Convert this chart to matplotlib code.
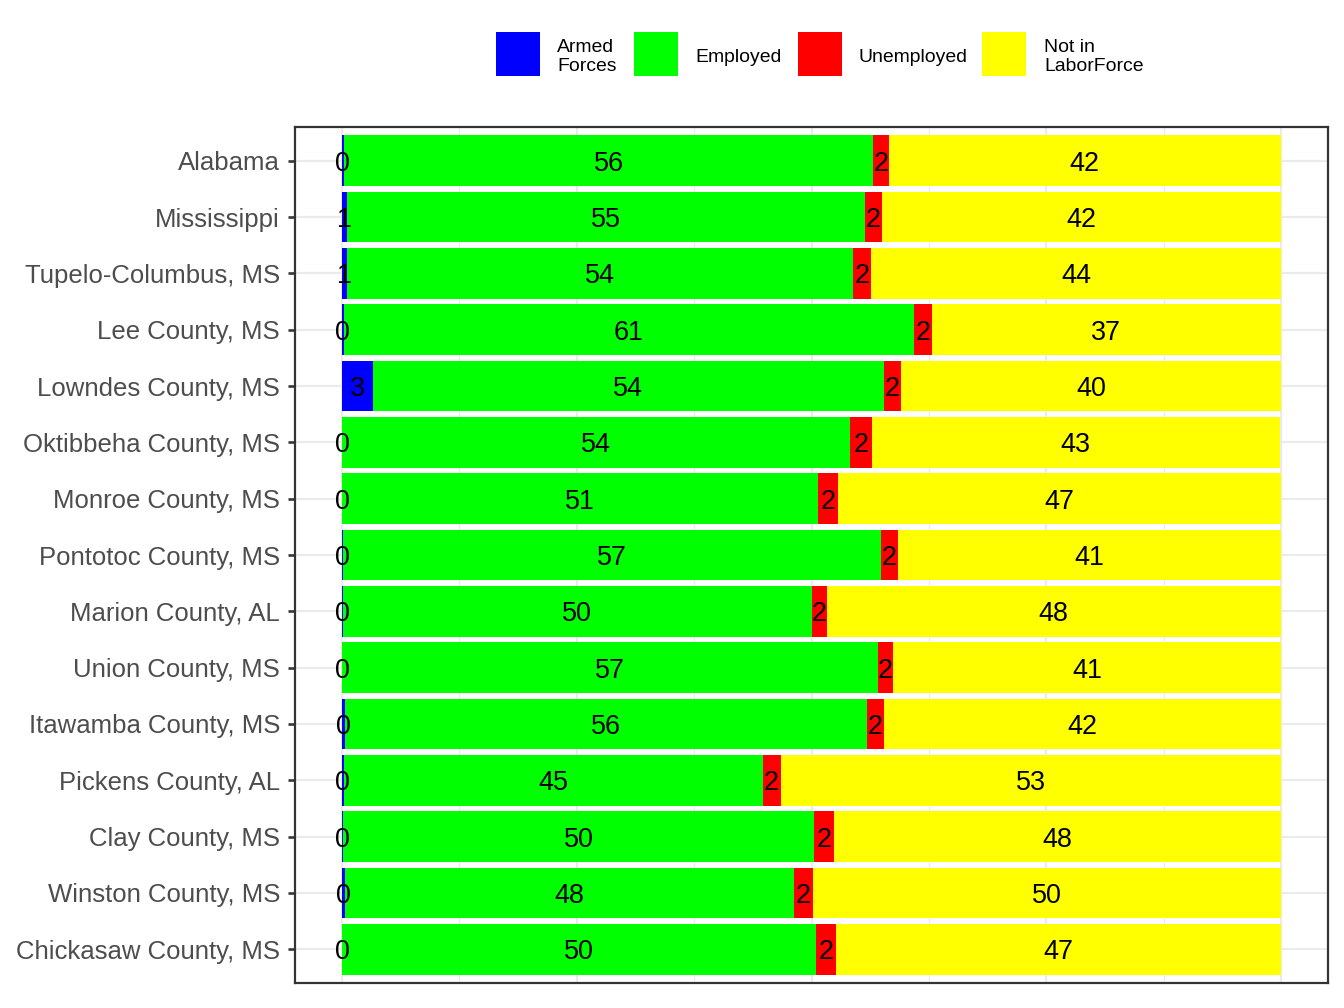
import numpy as np
import matplotlib.pyplot as plt
from matplotlib.patches import Rectangle

plt.rcParams['font.family'] = ['Liberation Sans', 'DejaVu Sans']

places = ["Alabama", "Mississippi", "Tupelo-Columbus, MS", "Lee County, MS",
          "Lowndes County, MS", "Oktibbeha County, MS", "Monroe County, MS",
          "Pontotoc County, MS", "Marion County, AL", "Union County, MS",
          "Itawamba County, MS", "Pickens County, AL", "Clay County, MS",
          "Winston County, MS", "Chickasaw County, MS"]

armed = [0.2, 0.55, 0.55, 0.2, 3.3, 0.05, 0.03, 0.1, 0.1, 0.05, 0.3, 0.2, 0.1, 0.3, 0.05]
employed = [56.4, 55.1, 53.9, 60.7, 54.4, 54.0, 50.7, 57.3, 49.9, 57.0, 55.6, 44.6, 50.2, 47.8, 50.4]
unemployed = [1.6, 1.9, 1.9, 1.9, 1.8, 2.4, 2.1, 1.8, 1.6, 1.6, 1.8, 1.9, 2.1, 2.1, 2.2]
not_in_lf = [41.8, 42.45, 43.65, 37.2, 40.5, 43.4, 47.17, 40.8, 48.4, 41.35, 42.3, 53.3, 47.6, 49.8, 47.35]

series = [armed, employed, unemployed, not_in_lf]
names = ["Armed\nForces", "Employed", "Unemployed", "Not in\nLaborForce"]
colors = ["#0000FF", "#00FF00", "#FF0000", "#FFFF00"]

fig = plt.figure(figsize=(1344 / 144, 1008 / 144), dpi=144)
ax = fig.add_axes([295 / 1344, 1 - 983 / 1008, (1328 - 295) / 1344, (983 - 127) / 1008])

y = np.arange(len(places))[::-1] + 1
left = np.zeros(len(places))
for vals, col in zip(series, colors):
    vals = np.array(vals)
    ax.barh(y, vals, left=left, height=0.9, color=col, zorder=2)
    for yi, l, v in zip(y, left, vals):
        ax.text(l + v / 2, yi, "%d" % round(v), ha='center', va='center_baseline',
                fontsize=13.5, color='black', zorder=3)
    left = left + vals

ax.set_xlim(-5, 105)
ax.set_ylim(0.4, len(places) + 0.6)
ax.set_yticks(y)
ax.set_yticklabels(places, fontsize=12.9, color='#4D4D4D')
ax.set_xticks([0, 25, 50, 75, 100])
ax.set_xticks([12.5, 37.5, 62.5, 87.5], minor=True)
ax.tick_params(axis='x', which='both', length=0, labelbottom=False)
ax.tick_params(axis='y', length=3.5, width=1.3, color='#333333', pad=4)
ax.grid(axis='x', which='major', color='#EBEBEB', lw=1.1, zorder=0)
ax.grid(axis='x', which='minor', color='#EBEBEB', lw=0.55, zorder=0)
ax.grid(axis='y', which='major', color='#EBEBEB', lw=1.1, zorder=0)
for s in ax.spines.values():
    s.set_color('#333333')
    s.set_linewidth(1.1)

# legend along the top
key_x = [497, 635, 799, 983]
lab_x = [557, 695, 859, 1044]
for kx, lx, col, nm in zip(key_x, lab_x, colors, names):
    fig.patches.append(Rectangle((kx / 1344, 1 - 75 / 1008), 42 / 1344, 42 / 1008,
                                 transform=fig.transFigure, color=col))
    fig.text(lx / 1344, 1 - 57 / 1008, nm, ha='left', va='center',
             fontsize=9.7, linespacing=1.12)

fig.savefig("out.png", dpi=144)
